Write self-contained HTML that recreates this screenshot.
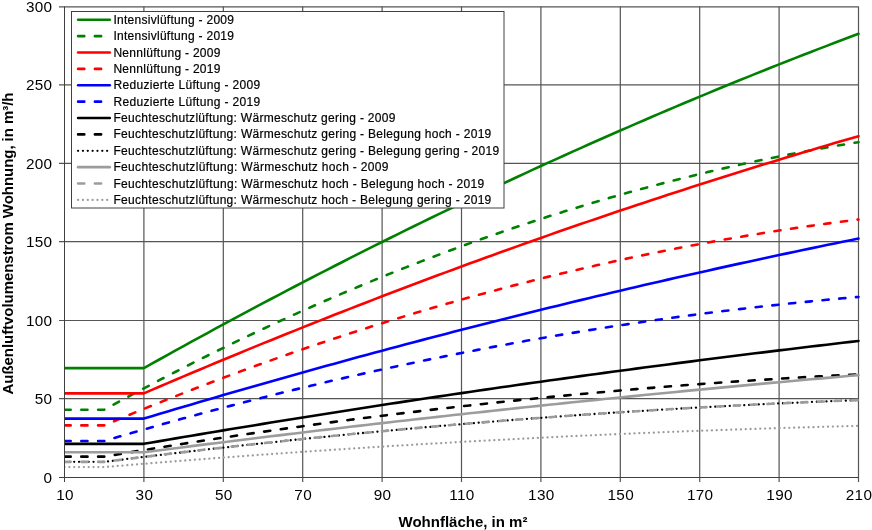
<!DOCTYPE html>
<html><head><meta charset="utf-8"><style>
html,body{margin:0;padding:0;background:#fff;}
body{width:872px;height:530px;overflow:hidden;}
svg{display:block;font-family:"Liberation Sans",sans-serif;will-change:transform;}
</style></head><body>
<svg width="872" height="530" viewBox="0 0 872 530">
<rect width="872" height="530" fill="#fff"/>

<path d="M143.90 6.5V482M223.30 6.5V482M302.70 6.5V482M382.10 6.5V482M461.50 6.5V482M540.90 6.5V482M620.30 6.5V482M699.70 6.5V482M779.10 6.5V482M858.50 6.5V482" stroke="#555" stroke-width="1.2" fill="none"/>
<path d="M59 398.7H858.5M59 320.5H858.5M59 241.7H858.5M59 163.3H858.5M59 84.85H858.5M59 6.8H858.5" stroke="#555" stroke-width="1.2" fill="none"/>
<text x="52.2" y="482.5" font-size="15.3" letter-spacing="0.25" text-anchor="end" fill="#000">0</text>
<text x="52.2" y="404.0" font-size="15.3" letter-spacing="0.25" text-anchor="end" fill="#000">50</text>
<text x="52.2" y="325.5" font-size="15.3" letter-spacing="0.25" text-anchor="end" fill="#000">100</text>
<text x="52.2" y="247.0" font-size="15.3" letter-spacing="0.25" text-anchor="end" fill="#000">150</text>
<text x="52.2" y="168.5" font-size="15.3" letter-spacing="0.25" text-anchor="end" fill="#000">200</text>
<text x="52.2" y="90.0" font-size="15.3" letter-spacing="0.25" text-anchor="end" fill="#000">250</text>
<text x="52.2" y="11.5" font-size="15.3" letter-spacing="0.25" text-anchor="end" fill="#000">300</text>
<text x="65.0" y="500.3" font-size="15.3" letter-spacing="0.35" text-anchor="middle" fill="#000">10</text>
<text x="144.4" y="500.3" font-size="15.3" letter-spacing="0.35" text-anchor="middle" fill="#000">30</text>
<text x="223.8" y="500.3" font-size="15.3" letter-spacing="0.35" text-anchor="middle" fill="#000">50</text>
<text x="303.2" y="500.3" font-size="15.3" letter-spacing="0.35" text-anchor="middle" fill="#000">70</text>
<text x="382.6" y="500.3" font-size="15.3" letter-spacing="0.35" text-anchor="middle" fill="#000">90</text>
<text x="462.0" y="500.3" font-size="15.3" letter-spacing="0.35" text-anchor="middle" fill="#000">110</text>
<text x="541.4" y="500.3" font-size="15.3" letter-spacing="0.35" text-anchor="middle" fill="#000">130</text>
<text x="620.8" y="500.3" font-size="15.3" letter-spacing="0.35" text-anchor="middle" fill="#000">150</text>
<text x="700.2" y="500.3" font-size="15.3" letter-spacing="0.35" text-anchor="middle" fill="#000">170</text>
<text x="779.6" y="500.3" font-size="15.3" letter-spacing="0.35" text-anchor="middle" fill="#000">190</text>
<text x="859.0" y="500.3" font-size="15.3" letter-spacing="0.35" text-anchor="middle" fill="#000">210</text>
<text x="463" y="527" font-size="15" font-weight="bold" text-anchor="middle" fill="#000">Wohnfläche, in m²</text>
<text transform="translate(12.7,243.5) rotate(-90)" x="0" y="0" font-size="15" textLength="302" font-weight="bold" text-anchor="middle" fill="#000">Außenluftvolumenstrom Wohnung, in m³/h</text>
<defs><clipPath id="pc"><rect x="64" y="0" width="808" height="530"/></clipPath></defs><g clip-path="url(#pc)">
<polyline points="64.50,368.10 72.44,368.10 80.38,368.10 88.32,368.10 96.26,368.10 104.20,368.10 112.14,368.10 120.08,368.10 128.02,368.10 135.96,368.10 143.90,368.10 151.84,363.66 159.78,359.24 167.72,354.83 175.66,350.44 183.60,346.06 191.54,341.70 199.48,337.36 207.42,333.03 215.36,328.72 223.30,324.42 231.24,320.15 239.18,315.89 247.12,311.64 255.06,307.41 263.00,303.20 270.94,299.00 278.88,294.82 286.82,290.66 294.76,286.51 302.70,282.38 310.64,278.27 318.58,274.17 326.52,270.09 334.46,266.02 342.40,261.97 350.34,257.94 358.28,253.92 366.22,249.92 374.16,245.94 382.10,241.97 390.04,238.02 397.98,234.08 405.92,230.16 413.86,226.26 421.80,222.38 429.74,218.51 437.68,214.65 445.62,210.81 453.56,206.99 461.50,203.19 469.44,199.40 477.38,195.63 485.32,191.87 493.26,188.14 501.20,184.41 509.14,180.71 517.08,177.02 525.02,173.34 532.96,169.68 540.90,166.04 548.84,162.42 556.78,158.81 564.72,155.22 572.66,151.64 580.60,148.08 588.54,144.54 596.48,141.01 604.42,137.50 612.36,134.01 620.30,130.53 628.24,127.07 636.18,123.62 644.12,120.19 652.06,116.78 660.00,113.39 667.94,110.01 675.88,106.64 683.82,103.29 691.76,99.96 699.70,96.65 707.64,93.35 715.58,90.07 723.52,86.80 731.46,83.55 739.40,80.32 747.34,77.10 755.28,73.90 763.22,70.72 771.16,67.55 779.10,64.40 787.04,61.27 794.98,58.15 802.92,55.05 810.86,51.96 818.80,48.89 826.74,45.84 834.68,42.80 842.62,39.78 850.56,36.77 858.50,33.79" stroke="#008000" fill="none" stroke-linejoin="round" stroke-width="2.6" stroke-linecap="round"/>
<polyline points="64.50,409.74 72.44,409.74 80.38,409.74 88.32,409.74 96.26,409.74 104.20,409.74 112.14,405.39 120.08,401.07 128.02,396.78 135.96,392.53 143.90,388.31 151.84,384.12 159.78,379.96 167.72,375.84 175.66,371.75 183.60,367.69 191.54,363.67 199.48,359.68 207.42,355.72 215.36,351.79 223.30,347.90 231.24,344.03 239.18,340.21 247.12,336.41 255.06,332.65 263.00,328.92 270.94,325.22 278.88,321.55 286.82,317.92 294.76,314.32 302.70,310.75 310.64,307.22 318.58,303.71 326.52,300.24 334.46,296.81 342.40,293.40 350.34,290.03 358.28,286.69 366.22,283.38 374.16,280.11 382.10,276.87 390.04,273.66 397.98,270.49 405.92,267.34 413.86,264.23 421.80,261.15 429.74,258.11 437.68,255.10 445.62,252.12 453.56,249.17 461.50,246.25 469.44,243.37 477.38,240.52 485.32,237.71 493.26,234.92 501.20,232.17 509.14,229.45 517.08,226.77 525.02,224.11 532.96,221.49 540.90,218.91 548.84,216.35 556.78,213.83 564.72,211.34 572.66,208.88 580.60,206.46 588.54,204.06 596.48,201.70 604.42,199.38 612.36,197.08 620.30,194.82 628.24,192.59 636.18,190.40 644.12,188.23 652.06,186.10 660.00,184.00 667.94,181.94 675.88,179.91 683.82,177.91 691.76,175.94 699.70,174.00 707.64,172.10 715.58,170.23 723.52,168.39 731.46,166.59 739.40,164.82 747.34,163.08 755.28,161.37 763.22,159.70 771.16,158.06 779.10,156.45 787.04,154.88 794.98,153.33 802.92,151.82 810.86,150.34 818.80,148.90 826.74,147.49 834.68,146.11 842.62,144.76 850.56,143.45 858.50,142.16" stroke="#008000" fill="none" stroke-linejoin="round" stroke-width="2.6" stroke-dasharray="6.2 10.6" stroke-linecap="round"/>
<polyline points="64.50,393.35 72.44,393.35 80.38,393.35 88.32,393.35 96.26,393.35 104.20,393.35 112.14,393.35 120.08,393.35 128.02,393.35 135.96,393.35 143.90,393.35 151.84,389.93 159.78,386.53 167.72,383.14 175.66,379.76 183.60,376.39 191.54,373.04 199.48,369.70 207.42,366.37 215.36,363.05 223.30,359.75 231.24,356.46 239.18,353.18 247.12,349.92 255.06,346.66 263.00,343.42 270.94,340.19 278.88,336.98 286.82,333.78 294.76,330.59 302.70,327.41 310.64,324.24 318.58,321.09 326.52,317.95 334.46,314.82 342.40,311.71 350.34,308.61 358.28,305.52 366.22,302.44 374.16,299.37 382.10,296.32 390.04,293.28 397.98,290.26 405.92,287.24 413.86,284.24 421.80,281.25 429.74,278.27 437.68,275.31 445.62,272.36 453.56,269.42 461.50,266.49 469.44,263.58 477.38,260.68 485.32,257.79 493.26,254.91 501.20,252.05 509.14,249.20 517.08,246.36 525.02,243.53 532.96,240.72 540.90,237.92 548.84,235.13 556.78,232.35 564.72,229.59 572.66,226.84 580.60,224.10 588.54,221.38 596.48,218.66 604.42,215.96 612.36,213.28 620.30,210.60 628.24,207.94 636.18,205.29 644.12,202.65 652.06,200.02 660.00,197.41 667.94,194.81 675.88,192.22 683.82,189.65 691.76,187.09 699.70,184.54 707.64,182.00 715.58,179.48 723.52,176.96 731.46,174.46 739.40,171.98 747.34,169.50 755.28,167.04 763.22,164.59 771.16,162.16 779.10,159.73 787.04,157.32 794.98,154.92 802.92,152.54 810.86,150.16 818.80,147.80 826.74,145.45 834.68,143.12 842.62,140.79 850.56,138.48 858.50,136.18" stroke="#ff0000" fill="none" stroke-linejoin="round" stroke-width="2.6" stroke-linecap="round"/>
<polyline points="64.50,425.38 72.44,425.38 80.38,425.38 88.32,425.38 96.26,425.38 104.20,425.38 112.14,422.03 120.08,418.71 128.02,415.41 135.96,412.14 143.90,408.89 151.84,405.67 159.78,402.47 167.72,399.30 175.66,396.16 183.60,393.03 191.54,389.94 199.48,386.87 207.42,383.82 215.36,380.80 223.30,377.81 231.24,374.83 239.18,371.89 247.12,368.97 255.06,366.07 263.00,363.20 270.94,360.36 278.88,357.54 286.82,354.74 294.76,351.98 302.70,349.23 310.64,346.51 318.58,343.82 326.52,341.15 334.46,338.50 342.40,335.89 350.34,333.29 358.28,330.72 366.22,328.18 374.16,325.66 382.10,323.17 390.04,320.70 397.98,318.26 405.92,315.84 413.86,313.45 421.80,311.08 429.74,308.74 437.68,306.42 445.62,304.13 453.56,301.86 461.50,299.62 469.44,297.40 477.38,295.21 485.32,293.04 493.26,290.90 501.20,288.79 509.14,286.69 517.08,284.63 525.02,282.59 532.96,280.57 540.90,278.58 548.84,276.62 556.78,274.67 564.72,272.76 572.66,270.87 580.60,269.00 588.54,267.16 596.48,265.35 604.42,263.56 612.36,261.79 620.30,260.05 628.24,258.34 636.18,256.65 644.12,254.99 652.06,253.35 660.00,251.73 667.94,250.15 675.88,248.58 683.82,247.04 691.76,245.53 699.70,244.04 707.64,242.58 715.58,241.14 723.52,239.73 731.46,238.34 739.40,236.98 747.34,235.64 755.28,234.33 763.22,233.04 771.16,231.78 779.10,230.54 787.04,229.33 794.98,228.14 802.92,226.98 810.86,225.84 818.80,224.73 826.74,223.64 834.68,222.58 842.62,221.55 850.56,220.53 858.50,219.55" stroke="#ff0000" fill="none" stroke-linejoin="round" stroke-width="2.6" stroke-dasharray="6.2 10.6" stroke-linecap="round"/>
<polyline points="64.50,418.59 72.44,418.59 80.38,418.59 88.32,418.59 96.26,418.59 104.20,418.59 112.14,418.59 120.08,418.59 128.02,418.59 135.96,418.59 143.90,418.59 151.84,416.20 159.78,413.82 167.72,411.45 175.66,409.08 183.60,406.72 191.54,404.38 199.48,402.04 207.42,399.71 215.36,397.39 223.30,395.07 231.24,392.77 239.18,390.48 247.12,388.19 255.06,385.91 263.00,383.65 270.94,381.39 278.88,379.14 286.82,376.89 294.76,374.66 302.70,372.44 310.64,370.22 318.58,368.01 326.52,365.82 334.46,363.63 342.40,361.45 350.34,359.27 358.28,357.11 366.22,354.96 374.16,352.81 382.10,350.68 390.04,348.55 397.98,346.43 405.92,344.32 413.86,342.22 421.80,340.12 429.74,338.04 437.68,335.97 445.62,333.90 453.56,331.84 461.50,329.79 469.44,327.75 477.38,325.72 485.32,323.70 493.26,321.69 501.20,319.68 509.14,317.69 517.08,315.70 525.02,313.72 532.96,311.75 540.90,309.79 548.84,307.84 556.78,305.90 564.72,303.96 572.66,302.04 580.60,300.12 588.54,298.21 596.48,296.31 604.42,294.42 612.36,292.54 620.30,290.67 628.24,288.81 636.18,286.95 644.12,285.10 652.06,283.27 660.00,281.44 667.94,279.62 675.88,277.81 683.82,276.00 691.76,274.21 699.70,272.43 707.64,270.65 715.58,268.88 723.52,267.13 731.46,265.38 739.40,263.63 747.34,261.90 755.28,260.18 763.22,258.46 771.16,256.76 779.10,255.06 787.04,253.37 794.98,251.70 802.92,250.02 810.86,248.36 818.80,246.71 826.74,245.07 834.68,243.43 842.62,241.80 850.56,240.19 858.50,238.58" stroke="#0000ff" fill="none" stroke-linejoin="round" stroke-width="2.6" stroke-linecap="round"/>
<polyline points="64.50,441.01 72.44,441.01 80.38,441.01 88.32,441.01 96.26,441.01 104.20,441.01 112.14,438.67 120.08,436.34 128.02,434.04 135.96,431.75 143.90,429.47 151.84,427.22 159.78,424.98 167.72,422.76 175.66,420.56 183.60,418.37 191.54,416.21 199.48,414.06 207.42,411.92 215.36,409.81 223.30,407.71 231.24,405.63 239.18,403.57 247.12,401.53 255.06,399.50 263.00,397.49 270.94,395.50 278.88,393.53 286.82,391.57 294.76,389.63 302.70,387.71 310.64,385.81 318.58,383.92 326.52,382.05 334.46,380.20 342.40,378.37 350.34,376.55 358.28,374.76 366.22,372.98 374.16,371.21 382.10,369.47 390.04,367.74 397.98,366.03 405.92,364.34 413.86,362.66 421.80,361.01 429.74,359.37 437.68,357.74 445.62,356.14 453.56,354.55 461.50,352.98 469.44,351.43 477.38,349.90 485.32,348.38 493.26,346.88 501.20,345.40 509.14,343.94 517.08,342.49 525.02,341.06 532.96,339.65 540.90,338.26 548.84,336.88 556.78,335.52 564.72,334.18 572.66,332.86 580.60,331.55 588.54,330.26 596.48,328.99 604.42,327.74 612.36,326.51 620.30,325.29 628.24,324.09 636.18,322.91 644.12,321.74 652.06,320.59 660.00,319.46 667.94,318.35 675.88,317.26 683.82,316.18 691.76,315.12 699.70,314.08 707.64,313.05 715.58,312.05 723.52,311.06 731.46,310.09 739.40,309.13 747.34,308.20 755.28,307.28 763.22,306.38 771.16,305.49 779.10,304.63 787.04,303.78 794.98,302.95 802.92,302.13 810.86,301.34 818.80,300.56 826.74,299.80 834.68,299.06 842.62,298.33 850.56,297.62 858.50,296.93" stroke="#0000ff" fill="none" stroke-linejoin="round" stroke-width="2.6" stroke-dasharray="6.2 10.6" stroke-linecap="round"/>
<polyline points="64.50,443.84 72.44,443.84 80.38,443.84 88.32,443.84 96.26,443.84 104.20,443.84 112.14,443.84 120.08,443.84 128.02,443.84 135.96,443.84 143.90,443.84 151.84,442.47 159.78,441.11 167.72,439.75 175.66,438.40 183.60,437.06 191.54,435.72 199.48,434.38 207.42,433.05 215.36,431.72 223.30,430.40 231.24,429.08 239.18,427.77 247.12,426.47 255.06,425.16 263.00,423.87 270.94,422.58 278.88,421.29 286.82,420.01 294.76,418.73 302.70,417.46 310.64,416.20 318.58,414.94 326.52,413.68 334.46,412.43 342.40,411.18 350.34,409.94 358.28,408.71 366.22,407.48 374.16,406.25 382.10,405.03 390.04,403.81 397.98,402.60 405.92,401.40 413.86,400.20 421.80,399.00 429.74,397.81 437.68,396.62 445.62,395.44 453.56,394.27 461.50,393.10 469.44,391.93 477.38,390.77 485.32,389.62 493.26,388.46 501.20,387.32 509.14,386.18 517.08,385.04 525.02,383.91 532.96,382.79 540.90,381.67 548.84,380.55 556.78,379.44 564.72,378.34 572.66,377.24 580.60,376.14 588.54,375.05 596.48,373.97 604.42,372.89 612.36,371.81 620.30,370.74 628.24,369.67 636.18,368.61 644.12,367.56 652.06,366.51 660.00,365.46 667.94,364.42 675.88,363.39 683.82,362.36 691.76,361.34 699.70,360.32 707.64,359.30 715.58,358.29 723.52,357.29 731.46,356.29 739.40,355.29 747.34,354.30 755.28,353.32 763.22,352.34 771.16,351.36 779.10,350.39 787.04,349.43 794.98,348.47 802.92,347.51 810.86,346.56 818.80,345.62 826.74,344.68 834.68,343.75 842.62,342.82 850.56,341.89 858.50,340.97" stroke="#000000" fill="none" stroke-linejoin="round" stroke-width="2.6" stroke-linecap="round"/>
<polyline points="64.50,456.65 72.44,456.65 80.38,456.65 88.32,456.65 96.26,456.65 104.20,456.65 112.14,455.31 120.08,453.98 128.02,452.66 135.96,451.36 143.90,450.06 151.84,448.77 159.78,447.49 167.72,446.22 175.66,444.96 183.60,443.71 191.54,442.48 199.48,441.25 207.42,440.03 215.36,438.82 223.30,437.62 231.24,436.43 239.18,435.26 247.12,434.09 255.06,432.93 263.00,431.78 270.94,430.64 278.88,429.52 286.82,428.40 294.76,427.29 302.70,426.19 310.64,425.10 318.58,424.03 326.52,422.96 334.46,421.90 342.40,420.85 350.34,419.82 358.28,418.79 366.22,417.77 374.16,416.76 382.10,415.77 390.04,414.78 397.98,413.80 405.92,412.84 413.86,411.88 421.80,410.93 429.74,410.00 437.68,409.07 445.62,408.15 453.56,407.24 461.50,406.35 469.44,405.46 477.38,404.58 485.32,403.72 493.26,402.86 501.20,402.01 509.14,401.18 517.08,400.35 525.02,399.54 532.96,398.73 540.90,397.93 548.84,397.15 556.78,396.37 564.72,395.60 572.66,394.85 580.60,394.10 588.54,393.37 596.48,392.64 604.42,391.92 612.36,391.22 620.30,390.52 628.24,389.84 636.18,389.16 644.12,388.49 652.06,387.84 660.00,387.19 667.94,386.56 675.88,385.93 683.82,385.32 691.76,384.71 699.70,384.12 707.64,383.53 715.58,382.96 723.52,382.39 731.46,381.84 739.40,381.29 747.34,380.76 755.28,380.23 763.22,379.72 771.16,379.21 779.10,378.72 787.04,378.23 794.98,377.76 802.92,377.29 810.86,376.84 818.80,376.39 826.74,375.96 834.68,375.53 842.62,375.12 850.56,374.71 858.50,374.32" stroke="#000000" fill="none" stroke-linejoin="round" stroke-width="2.6" stroke-dasharray="6.2 10.6" stroke-linecap="round"/>
<polyline points="64.50,461.86 72.44,461.86 80.38,461.86 88.32,461.86 96.26,461.86 104.20,461.86 112.14,460.86 120.08,459.86 128.02,458.87 135.96,457.89 143.90,456.92 151.84,455.95 159.78,454.99 167.72,454.04 175.66,453.10 183.60,452.16 191.54,451.23 199.48,450.31 207.42,449.40 215.36,448.49 223.30,447.59 231.24,446.70 239.18,445.82 247.12,444.94 255.06,444.07 263.00,443.21 270.94,442.36 278.88,441.51 286.82,440.67 294.76,439.84 302.70,439.02 310.64,438.20 318.58,437.40 326.52,436.59 334.46,435.80 342.40,435.02 350.34,434.24 358.28,433.47 366.22,432.70 374.16,431.95 382.10,431.20 390.04,430.46 397.98,429.73 405.92,429.00 413.86,428.28 421.80,427.57 429.74,426.87 437.68,426.18 445.62,425.49 453.56,424.81 461.50,424.14 469.44,423.47 477.38,422.81 485.32,422.16 493.26,421.52 501.20,420.89 509.14,420.26 517.08,419.64 525.02,419.03 532.96,418.42 540.90,417.82 548.84,417.23 556.78,416.65 564.72,416.08 572.66,415.51 580.60,414.95 588.54,414.40 596.48,413.85 604.42,413.32 612.36,412.79 620.30,412.27 628.24,411.75 636.18,411.25 644.12,410.75 652.06,410.25 660.00,409.77 667.94,409.29 675.88,408.82 683.82,408.36 691.76,407.91 699.70,407.46 707.64,407.02 715.58,406.59 723.52,406.17 731.46,405.75 739.40,405.34 747.34,404.94 755.28,404.55 763.22,404.16 771.16,403.78 779.10,403.41 787.04,403.05 794.98,402.69 802.92,402.34 810.86,402.00 818.80,401.67 826.74,401.34 834.68,401.02 842.62,400.71 850.56,400.41 858.50,400.11" stroke="#000000" fill="none" stroke-linejoin="round" stroke-width="2.3" stroke-dasharray="0.01 4.83" stroke-linecap="round"/>
<polyline points="64.50,452.25 72.44,452.25 80.38,452.25 88.32,452.25 96.26,452.25 104.20,452.25 112.14,452.25 120.08,452.25 128.02,452.25 135.96,452.25 143.90,452.25 151.84,451.23 159.78,450.21 167.72,449.19 175.66,448.18 183.60,447.17 191.54,446.16 199.48,445.16 207.42,444.16 215.36,443.17 223.30,442.18 231.24,441.19 239.18,440.20 247.12,439.22 255.06,438.25 263.00,437.28 270.94,436.31 278.88,435.34 286.82,434.38 294.76,433.43 302.70,432.47 310.64,431.52 318.58,430.58 326.52,429.64 334.46,428.70 342.40,427.76 350.34,426.83 358.28,425.90 366.22,424.98 374.16,424.06 382.10,423.15 390.04,422.23 397.98,421.33 405.92,420.42 413.86,419.52 421.80,418.62 429.74,417.73 437.68,416.84 445.62,415.96 453.56,415.08 461.50,414.20 469.44,413.32 477.38,412.45 485.32,411.59 493.26,410.72 501.20,409.86 509.14,409.01 517.08,408.16 525.02,407.31 532.96,406.47 540.90,405.63 548.84,404.79 556.78,403.96 564.72,403.13 572.66,402.30 580.60,401.48 588.54,400.66 596.48,399.85 604.42,399.04 612.36,398.23 620.30,397.43 628.24,396.63 636.18,395.84 644.12,395.04 652.06,394.26 660.00,393.47 667.94,392.69 675.88,391.92 683.82,391.14 691.76,390.38 699.70,389.61 707.64,388.85 715.58,388.09 723.52,387.34 731.46,386.59 739.40,385.84 747.34,385.10 755.28,384.36 763.22,383.63 771.16,382.90 779.10,382.17 787.04,381.45 794.98,380.73 802.92,380.01 810.86,379.30 818.80,378.59 826.74,377.89 834.68,377.18 842.62,376.49 850.56,375.79 858.50,375.10" stroke="#9c9c9c" fill="none" stroke-linejoin="round" stroke-width="2.6" stroke-linecap="round"/>
<polyline points="64.50,461.86 72.44,461.86 80.38,461.86 88.32,461.86 96.26,461.86 104.20,461.86 112.14,460.86 120.08,459.86 128.02,458.87 135.96,457.89 143.90,456.92 151.84,455.95 159.78,454.99 167.72,454.04 175.66,453.10 183.60,452.16 191.54,451.23 199.48,450.31 207.42,449.40 215.36,448.49 223.30,447.59 231.24,446.70 239.18,445.82 247.12,444.94 255.06,444.07 263.00,443.21 270.94,442.36 278.88,441.51 286.82,440.67 294.76,439.84 302.70,439.02 310.64,438.20 318.58,437.40 326.52,436.59 334.46,435.80 342.40,435.02 350.34,434.24 358.28,433.47 366.22,432.70 374.16,431.95 382.10,431.20 390.04,430.46 397.98,429.73 405.92,429.00 413.86,428.28 421.80,427.57 429.74,426.87 437.68,426.18 445.62,425.49 453.56,424.81 461.50,424.14 469.44,423.47 477.38,422.81 485.32,422.16 493.26,421.52 501.20,420.89 509.14,420.26 517.08,419.64 525.02,419.03 532.96,418.42 540.90,417.82 548.84,417.23 556.78,416.65 564.72,416.08 572.66,415.51 580.60,414.95 588.54,414.40 596.48,413.85 604.42,413.32 612.36,412.79 620.30,412.27 628.24,411.75 636.18,411.25 644.12,410.75 652.06,410.25 660.00,409.77 667.94,409.29 675.88,408.82 683.82,408.36 691.76,407.91 699.70,407.46 707.64,407.02 715.58,406.59 723.52,406.17 731.46,405.75 739.40,405.34 747.34,404.94 755.28,404.55 763.22,404.16 771.16,403.78 779.10,403.41 787.04,403.05 794.98,402.69 802.92,402.34 810.86,402.00 818.80,401.67 826.74,401.34 834.68,401.02 842.62,400.71 850.56,400.41 858.50,400.11" stroke="#9c9c9c" fill="none" stroke-linejoin="round" stroke-width="2.6" stroke-dasharray="6.2 10.6" stroke-linecap="round"/>
<polyline points="64.50,467.08 72.44,467.08 80.38,467.08 88.32,467.08 96.26,467.08 104.20,467.08 112.14,466.41 120.08,465.74 128.02,465.08 135.96,464.43 143.90,463.78 151.84,463.13 159.78,462.49 167.72,461.86 175.66,461.23 183.60,460.61 191.54,459.99 199.48,459.37 207.42,458.76 215.36,458.16 223.30,457.56 231.24,456.97 239.18,456.38 247.12,455.79 255.06,455.21 263.00,454.64 270.94,454.07 278.88,453.51 286.82,452.95 294.76,452.40 302.70,451.85 310.64,451.30 318.58,450.76 326.52,450.23 334.46,449.70 342.40,449.18 350.34,448.66 358.28,448.14 366.22,447.64 374.16,447.13 382.10,446.63 390.04,446.14 397.98,445.65 405.92,445.17 413.86,444.69 421.80,444.22 429.74,443.75 437.68,443.28 445.62,442.83 453.56,442.37 461.50,441.92 469.44,441.48 477.38,441.04 485.32,440.61 493.26,440.18 501.20,439.76 509.14,439.34 517.08,438.93 525.02,438.52 532.96,438.11 540.90,437.72 548.84,437.32 556.78,436.93 564.72,436.55 572.66,436.17 580.60,435.80 588.54,435.43 596.48,435.07 604.42,434.71 612.36,434.36 620.30,434.01 628.24,433.67 636.18,433.33 644.12,433.00 652.06,432.67 660.00,432.35 667.94,432.03 675.88,431.72 683.82,431.41 691.76,431.11 699.70,430.81 707.64,430.52 715.58,430.23 723.52,429.95 731.46,429.67 739.40,429.40 747.34,429.13 755.28,428.87 763.22,428.61 771.16,428.36 779.10,428.11 787.04,427.87 794.98,427.63 802.92,427.40 810.86,427.17 818.80,426.95 826.74,426.73 834.68,426.52 842.62,426.31 850.56,426.11 858.50,425.91" stroke="#9c9c9c" fill="none" stroke-linejoin="round" stroke-width="2.3" stroke-dasharray="0.01 4.83" stroke-linecap="round"/>
</g>
<path d="M64.5 6.5V482M59 477.5H858.5" stroke="#404040" stroke-width="1" fill="none"/>
<rect x="71.5" y="11.5" width="432.5" height="196.5" fill="#fff" stroke="#404040" stroke-width="1"/>
<line x1="78.1" y1="19.75" x2="109.8" y2="19.75" stroke="#008000" stroke-width="2.6" stroke-linecap="round"/>
<text x="113.4" y="23.75" font-size="12" textLength="120.6" lengthAdjust="spacing" fill="#000" stroke="#000" stroke-width="0.2">Intensivlüftung - 2009</text>
<line x1="78.1" y1="36.13" x2="109.8" y2="36.13" stroke="#008000" stroke-width="2.6" stroke-dasharray="6.2 10.6" stroke-linecap="round"/>
<text x="113.4" y="40.13" font-size="12" textLength="120.6" lengthAdjust="spacing" fill="#000" stroke="#000" stroke-width="0.2">Intensivlüftung - 2019</text>
<line x1="78.1" y1="52.51" x2="109.8" y2="52.51" stroke="#ff0000" stroke-width="2.6" stroke-linecap="round"/>
<text x="113.4" y="56.51" font-size="12" textLength="107.1" lengthAdjust="spacing" fill="#000" stroke="#000" stroke-width="0.2">Nennlüftung - 2009</text>
<line x1="78.1" y1="68.89" x2="109.8" y2="68.89" stroke="#ff0000" stroke-width="2.6" stroke-dasharray="6.2 10.6" stroke-linecap="round"/>
<text x="113.4" y="72.89" font-size="12" textLength="107.1" lengthAdjust="spacing" fill="#000" stroke="#000" stroke-width="0.2">Nennlüftung - 2019</text>
<line x1="78.1" y1="85.27" x2="109.8" y2="85.27" stroke="#0000ff" stroke-width="2.6" stroke-linecap="round"/>
<text x="113.4" y="89.27" font-size="12" textLength="146.7" lengthAdjust="spacing" fill="#000" stroke="#000" stroke-width="0.2">Reduzierte Lüftung - 2009</text>
<line x1="78.1" y1="101.65" x2="109.8" y2="101.65" stroke="#0000ff" stroke-width="2.6" stroke-dasharray="6.2 10.6" stroke-linecap="round"/>
<text x="113.4" y="105.65" font-size="12" textLength="146.7" lengthAdjust="spacing" fill="#000" stroke="#000" stroke-width="0.2">Reduzierte Lüftung - 2019</text>
<line x1="78.1" y1="118.03" x2="109.8" y2="118.03" stroke="#000000" stroke-width="2.6" stroke-linecap="round"/>
<text x="113.4" y="122.03" font-size="12" textLength="282.1" lengthAdjust="spacing" fill="#000" stroke="#000" stroke-width="0.2">Feuchteschutzlüftung: Wärmeschutz gering - 2009</text>
<line x1="78.1" y1="134.41" x2="109.8" y2="134.41" stroke="#000000" stroke-width="2.6" stroke-dasharray="6.2 10.6" stroke-linecap="round"/>
<text x="113.4" y="138.41" font-size="12" textLength="377.9" lengthAdjust="spacing" fill="#000" stroke="#000" stroke-width="0.2">Feuchteschutzlüftung: Wärmeschutz gering - Belegung hoch - 2019</text>
<line x1="78.1" y1="150.79" x2="109.8" y2="150.79" stroke="#000000" stroke-width="2.3" stroke-dasharray="0.01 4.83" stroke-linecap="round"/>
<text x="113.4" y="154.79" font-size="12" textLength="385.8" lengthAdjust="spacing" fill="#000" stroke="#000" stroke-width="0.2">Feuchteschutzlüftung: Wärmeschutz gering - Belegung gering - 2019</text>
<line x1="78.1" y1="167.17" x2="109.8" y2="167.17" stroke="#9c9c9c" stroke-width="2.6" stroke-linecap="round"/>
<text x="113.4" y="171.17" font-size="12" textLength="275.1" lengthAdjust="spacing" fill="#000" stroke="#000" stroke-width="0.2">Feuchteschutzlüftung: Wärmeschutz hoch - 2009</text>
<line x1="78.1" y1="183.55" x2="109.8" y2="183.55" stroke="#9c9c9c" stroke-width="2.6" stroke-dasharray="6.2 10.6" stroke-linecap="round"/>
<text x="113.4" y="187.55" font-size="12" textLength="370.8" lengthAdjust="spacing" fill="#000" stroke="#000" stroke-width="0.2">Feuchteschutzlüftung: Wärmeschutz hoch - Belegung hoch - 2019</text>
<line x1="78.1" y1="199.93" x2="109.8" y2="199.93" stroke="#9c9c9c" stroke-width="2.3" stroke-dasharray="0.01 4.83" stroke-linecap="round"/>
<text x="113.4" y="203.93" font-size="12" textLength="377.9" lengthAdjust="spacing" fill="#000" stroke="#000" stroke-width="0.2">Feuchteschutzlüftung: Wärmeschutz hoch - Belegung gering - 2019</text>
</svg></body></html>
